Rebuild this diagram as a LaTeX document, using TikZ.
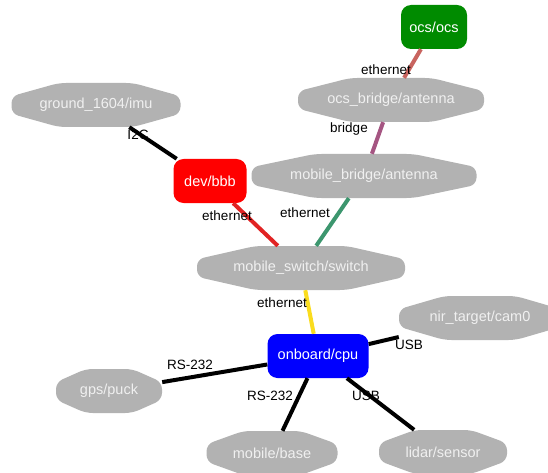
\documentclass[tikz,border=0pt]{standalone}
\usepackage{fontspec}
\setmainfont{Liberation Sans}
\usetikzlibrary{positioning, calc}
\definecolor{hostgray}{RGB}{178,178,178}
\definecolor{ocsgreen}{RGB}{0,139,0}
\definecolor{cpublue}{RGB}{0,0,255}
\definecolor{bbbred}{RGB}{255,0,0}
\definecolor{ethocs}{RGB}{200,100,95}
\definecolor{ethbridge}{RGB}{165,85,130}
\definecolor{ethbbb}{RGB}{225,35,35}
\definecolor{ethmobile}{RGB}{60,150,110}
\definecolor{ethcpu}{RGB}{250,220,30}
\tikzset{
    every node/.style={font=\fontsize{14.5}{17}\selectfont},
    host/.style={minimum height=44pt, inner sep=0pt, text=white!94!black,
        path picture={
            \fill[hostgray, rounded corners=7pt]
                let \p1=(path picture bounding box.south west),
                    \p2=(path picture bounding box.north east) in
                ({\x1+0.28*(\x2-\x1)},\y2) -- ({\x1+0.72*(\x2-\x1)},\y2)
                -- (\x2,{\y1+0.7*(\y2-\y1)}) -- (\x2,{\y1+0.3*(\y2-\y1)})
                -- ({\x1+0.72*(\x2-\x1)},\y1) -- ({\x1+0.28*(\x2-\x1)},\y1)
                -- (\x1,{\y1+0.3*(\y2-\y1)}) -- (\x1,{\y1+0.7*(\y2-\y1)}) -- cycle;
        }},
    box/.style={rounded corners=10pt, minimum height=44pt, inner sep=0pt, text=white},
    wire/.style={line width=4pt},
    lbl/.style={font=\fontsize{13.5}{16}\selectfont, inner sep=0pt},
}

\begin{document}
\begin{tikzpicture}[x=1pt, y=-1pt]
\useasboundingbox (0,0) rectangle (548,473);
\clip (0,0) rectangle (548,473);

\node[box, fill=ocsgreen, minimum width=66pt] (ocs) at (434,27) {ocs/ocs};
\node[host, minimum width=186pt] (ocsbr) at (391,100) {ocs\_bridge/antenna};
\node[host, minimum width=169pt] (imu) at (96,105) {ground\_1604/imu};
\node[box, fill=bbbred, minimum width=73pt] (bbb) at (210,181) {dev/bbb};
\node[host, minimum width=225pt] (mobbr) at (364,176) {mobile\_bridge/antenna};
\node[host, minimum width=208pt] (switch) at (301,268) {mobile\_switch/switch};
\node[box, fill=cpublue, minimum width=101pt] (cpu) at (318,356) {onboard/cpu};
\node[host, minimum width=162pt] (cam) at (480,318) {nir\_target/cam0};
\node[host, minimum width=106pt] (gps) at (109,391) {gps/puck};
\node[host, minimum width=131pt] (base) at (272,453) {mobile/base};
\node[host, minimum width=128pt] (lidar) at (443,452) {lidar/sensor};

% links
\draw[wire, ethocs] (ocs) -- (ocsbr);
\draw[wire, ethbridge] (ocsbr) -- (mobbr);
\draw[wire] (imu) -- (bbb);
\draw[wire, ethbbb] (bbb) -- (switch);
\draw[wire, ethmobile] (mobbr) -- (switch);
\draw[wire, ethcpu] (switch) -- (cpu);
\draw[wire] (cpu) -- (cam);
\draw[wire] (cpu) -- (gps);
\draw[wire] (cpu) -- (base);
\draw[wire] (cpu) -- (lidar);

% link labels
\node[lbl] (l-ocs) at (386,70) {ethernet};
\node[lbl] (l-bridge) at (349,129) {bridge};
\node[lbl] (l-i2c) at (138,135) {I2C};
\node[lbl] (l-bbb) at (227,216) {ethernet};
\node[lbl] (l-mob) at (305,213) {ethernet};
\node[lbl] (l-cpu) at (282,303) {ethernet};
\node[lbl] (l-cam) at (409,345) {USB};
\node[lbl] (l-gps) at (190,365) {RS-232};
\node[lbl] (l-base) at (270,396) {RS-232};
\node[lbl] (l-lidar) at (366,396) {USB};

\end{tikzpicture}
\end{document}
